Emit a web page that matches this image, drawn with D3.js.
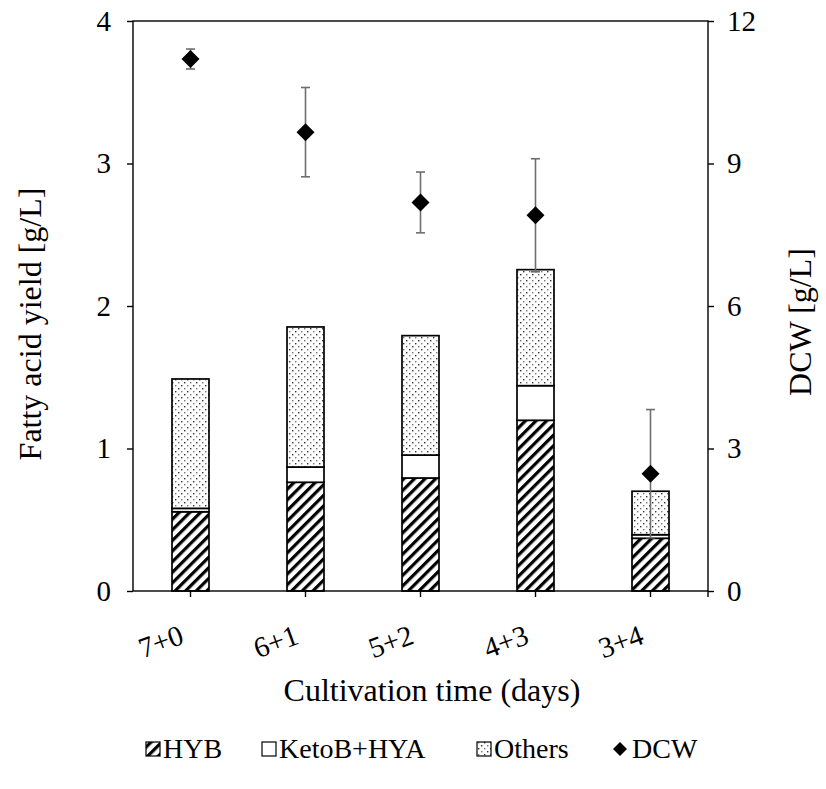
<!DOCTYPE html>
<html><head><meta charset="utf-8">
<script src="https://cdn.jsdelivr.net/npm/d3@7"></script>
</head><body style="margin:0">
<script>
const categories = ["7+0","6+1","5+2","4+3","3+4"];
const hyb = [0.556, 0.763, 0.793, 1.198, 0.370];
const ketoHya = [0.024, 0.107, 0.161, 0.243, 0.025];
const others = [0.908, 0.983, 0.838, 0.814, 0.305];
const dcw = [11.20, 9.66, 8.18, 7.91, 2.47];
const dcwErr = [0.21, 0.94, 0.64, 1.19, 1.35];
const leftTicks = [0,1,2,3,4];
const rightTicks = [0,3,6,9,12];
const seriesNames = ["HYB","KetoB+HYA","Others","DCW"];

const W = 826, H = 789;
const m = {l:133, r:708, t:21, b:591};
const svg = d3.select("body").append("svg").attr("width",W).attr("height",H);
const defs = svg.append("defs");
const hat = defs.append("pattern").attr("id","hatch").attr("patternUnits","userSpaceOnUse")
  .attr("width",7.5).attr("height",7.5).attr("patternTransform","rotate(45)");
hat.append("rect").attr("width",7.5).attr("height",7.5).attr("fill","#fff");
hat.append("rect").attr("width",3.2).attr("height",7.5).attr("fill","#000");
const dots = defs.append("pattern").attr("id","dots").attr("patternUnits","userSpaceOnUse")
  .attr("width",12).attr("height",12);
dots.append("rect").attr("width",12).attr("height",12).attr("fill","#fff");
[[1,1,"#333"],[7,1,"#777"],[4,4,"#777"],[10,4,"#333"],[1,7,"#777"],[7,7,"#333"],[4,10,"#333"],[10,10,"#777"]]
  .forEach(p=>dots.append("rect").attr("x",p[0]).attr("y",p[1]).attr("width",1.4).attr("height",1.4).attr("fill",p[2]));

const x = d3.scaleBand().domain(categories).range([m.l,m.r]).paddingInner(0).paddingOuter(0);
const y = d3.scaleLinear().domain([0,4]).range([m.b,m.t]);
const y2 = d3.scaleLinear().domain([0,12]).range([m.b,m.t]);
const bw = 37;

const stackData = categories.map((c,i)=>({cat:c, HYB:hyb[i], K:ketoHya[i], O:others[i]}));
const stack = d3.stack().keys(["HYB","K","O"])(stackData);
const fills = {HYB:"url(#hatch)", K:"#fff", O:"url(#dots)"};
stack.forEach(s=>{
  svg.append("g").selectAll("rect").data(s).join("rect")
    .attr("x",d=>x(d.data.cat)+x.bandwidth()/2-bw/2)
    .attr("width",bw)
    .attr("y",d=>y(d[1]))
    .attr("height",d=>y(d[0])-y(d[1]))
    .attr("fill",fills[s.key]).attr("stroke","#000").attr("stroke-width",1.7);
});

svg.append("rect").attr("x",m.l).attr("y",m.t).attr("width",m.r-m.l).attr("height",m.b-m.t)
  .attr("fill","none").attr("stroke","#000").attr("stroke-width",1.4);

const fs = 29, tfs = 32, lfs = 28;
function styleText(sel, size){ sel.attr("font-size",size).attr("font-family","Liberation Serif").style("font-family","\"Liberation Serif\"").attr("fill","#000"); }
const la = svg.append("g").attr("transform",`translate(${m.l},0)`)
  .call(d3.axisLeft(y).tickValues(leftTicks).tickSize(6).tickPadding(16).tickFormat(d3.format("d")));
la.attr("font-family",null);
la.select(".domain").remove();
la.selectAll("line").attr("stroke","#000").attr("stroke-width",1.4);
styleText(la.selectAll("text"), fs);
const ra = svg.append("g").attr("transform",`translate(${m.r},0)`)
  .call(d3.axisRight(y2).tickValues(rightTicks).tickSize(6).tickPadding(13).tickFormat(d3.format("d")));
ra.attr("font-family",null);
ra.select(".domain").remove();
ra.selectAll("line").attr("stroke","#000").attr("stroke-width",1.4);
styleText(ra.selectAll("text"), fs);

const ba = svg.append("g").attr("transform",`translate(0,${m.b})`);
ba.selectAll("line.t").data(categories).join("line")
  .attr("x1",d=>x(d)+x.bandwidth()/2).attr("x2",d=>x(d)+x.bandwidth()/2)
  .attr("y1",0).attr("y2",6).attr("stroke","#000").attr("stroke-width",1.4);
ba.append("line").attr("x1",m.r).attr("x2",m.r).attr("y1",0).attr("y2",6).attr("stroke","#000").attr("stroke-width",1.4);
styleText(ba.selectAll("text").data(categories).join("text")
  .attr("transform",d=>`translate(${x(d)+x.bandwidth()/2-5},52) rotate(-20)`)
  .attr("text-anchor","end").text(d=>d), fs);

styleText(svg.append("text").attr("transform",`translate(41,324) rotate(-90)`)
  .attr("text-anchor","middle").text("Fatty acid yield [g/L]"), tfs);
styleText(svg.append("text").attr("transform",`translate(811,322) rotate(-90)`)
  .attr("text-anchor","middle").text("DCW [g/L]"), tfs);
styleText(svg.append("text").attr("x",432).attr("y",701)
  .attr("text-anchor","middle").text("Cultivation time (days)"), tfs);

const cx = i=>x(categories[i])+x.bandwidth()/2;
const eg = svg.append("g");
dcw.forEach((v,i)=>{
  const t = y2(v+dcwErr[i]), b = y2(v-dcwErr[i]);
  eg.append("line").attr("x1",cx(i)).attr("x2",cx(i)).attr("y1",t).attr("y2",b).attr("stroke","#6e6e6e").attr("stroke-width",1.6);
  [t,b].forEach(yy=>eg.append("line").attr("x1",cx(i)-4.5).attr("x2",cx(i)+4.5).attr("y1",yy).attr("y2",yy).attr("stroke","#6e6e6e").attr("stroke-width",1.6));
});
const diamond = s=>`M0,${-s}L${s},0L0,${s}L${-s},0Z`;
svg.append("g").selectAll("path").data(dcw).join("path")
  .attr("transform",(d,i)=>`translate(${cx(i)},${y2(d)})`).attr("d",diamond(9)).attr("fill","#000");

const lg = svg.append("g");
const leg = [
  {name:seriesNames[0], fill:"url(#hatch)", bx:146, tx:163},
  {name:seriesNames[1], fill:"#fff", bx:262, tx:279},
  {name:seriesNames[2], fill:"url(#dots)", bx:477, tx:494},
];
const ly = 758;
leg.forEach(l=>{
  lg.append("rect").attr("x",l.bx).attr("y",ly-16).attr("width",14).attr("height",14)
    .attr("fill",l.fill).attr("stroke","#000").attr("stroke-width",1.2);
  styleText(lg.append("text").attr("x",l.tx).attr("y",ly).text(l.name), lfs);
});
lg.append("path").attr("transform",`translate(620,${ly-9})`).attr("d",diamond(7)).attr("fill","#000");
styleText(lg.append("text").attr("x",632).attr("y",ly).text(seriesNames[3]), lfs);
</script>
</body></html>
